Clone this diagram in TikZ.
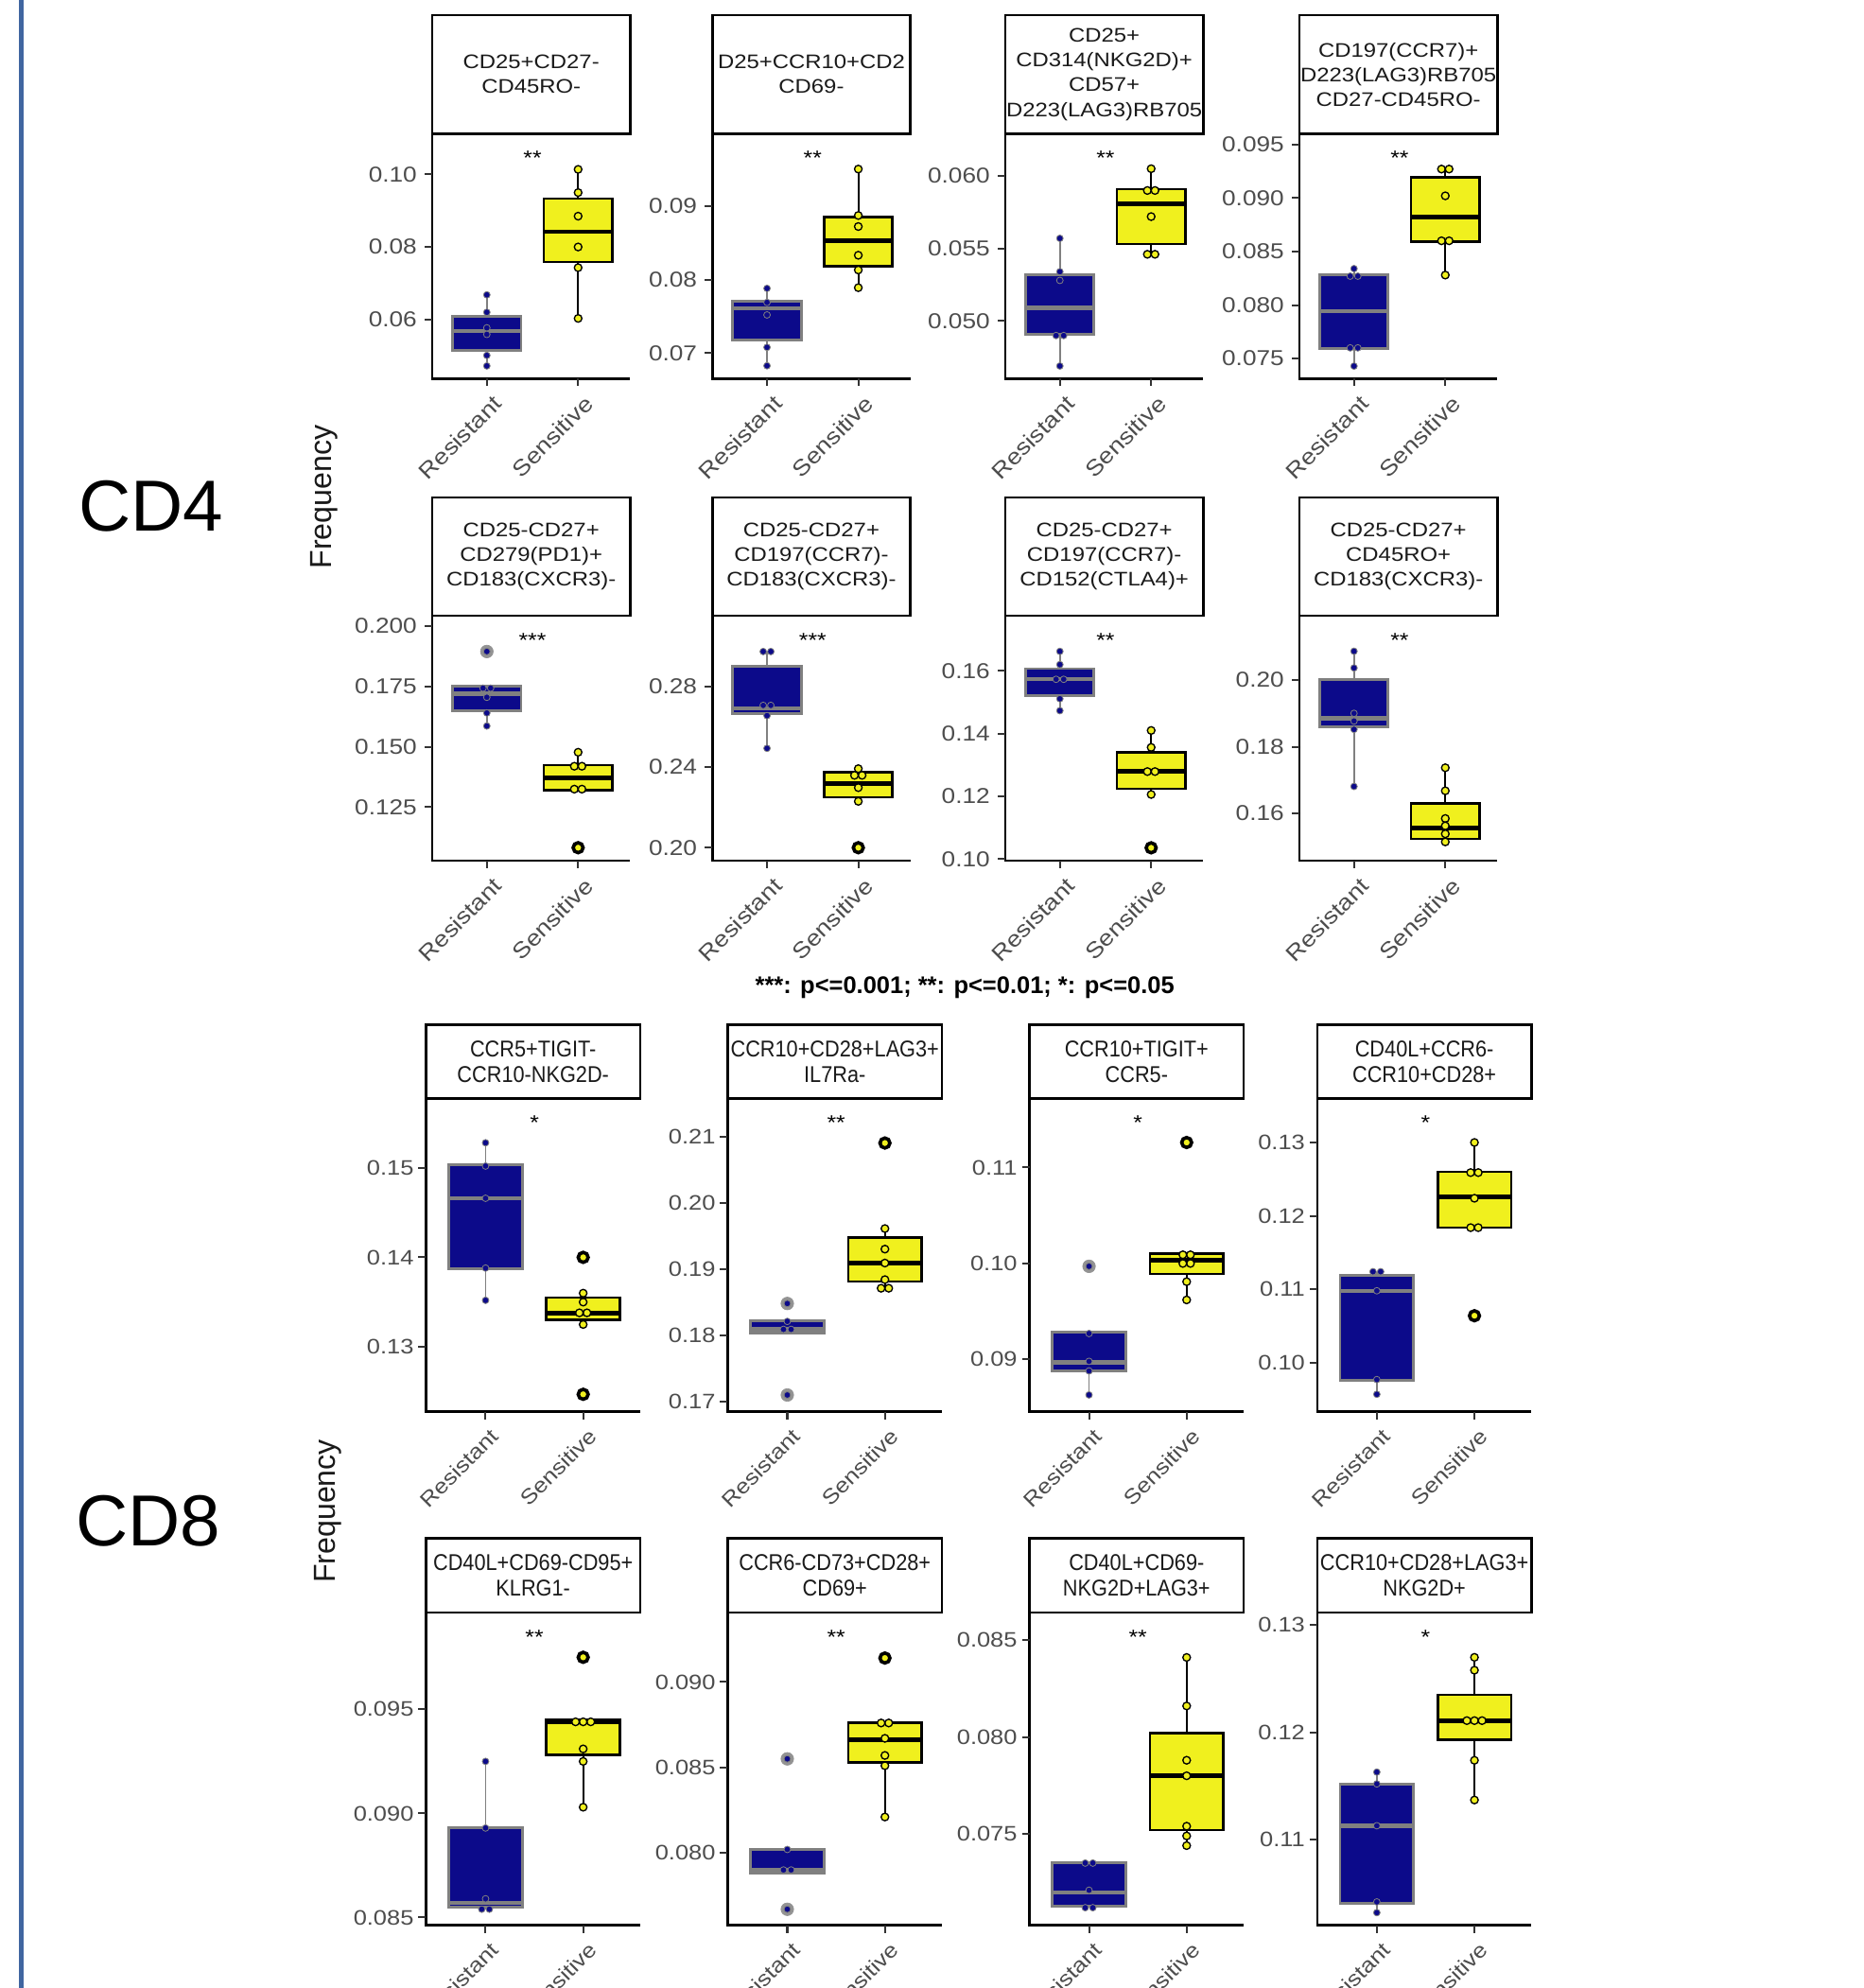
\documentclass[tikz,border=0pt]{standalone}
\usepackage{fontspec}
\setmainfont{Liberation Sans}
\newfontfamily\widesf[FakeStretch=1.15]{Liberation Sans}
\newfontfamily\narrowsf[FakeStretch=0.9]{Liberation Sans}
\usetikzlibrary{positioning}

\definecolor{navybox}{RGB}{12,10,138}
\definecolor{ylwbox}{RGB}{240,240,30}
\definecolor{boxgray}{RGB}{128,128,128}
\definecolor{tickgray}{RGB}{77,77,77}
\definecolor{stripink}{RGB}{26,26,26}
\definecolor{sidebar}{RGB}{64,102,160}

% one facet: strip, axes, group labels, stars
% #1 name, #2 left, #3 strip top, #4 strip bottom, #5 x axis, #6 title, #7 stars
\newcommand{\facet}[7]{%
  \draw[stripbox] (#2,#3) rectangle (#2+\panw,#4);
  \begin{scope}
    \clip (#2,#3) rectangle (#2+\panw,#4);
    \node[striptext] (#1-title) at ({#2+\panw/2},{(#3+#4)/2}) {#6};
  \end{scope}
  \draw[axisline] (#2,#4) -- (#2,#5) -- (#2+\panw,#5);
  \draw[tickline] (#2+\resx,#5) -- (#2+\resx,#5+6) (#2+\senx,#5) -- (#2+\senx,#5+6);
  \node[catlabel] (#1-res) at (#2+\resx+\catdx,#5+12) {Resistant};
  \node[catlabel] (#1-sen) at (#2+\senx+\catdx,#5+12) {Sensitive};
  \node[stars] (#1-sig) at ({#2+(\resx+\senx)/2},#4+25) {#7};
}
% data scope: values in percent; #1 left, #2 pixel row of 0, #3 pt per percent
\newenvironment{facetdata}[3]{\begin{scope}[shift={(#1,#2)}, y={(0pt,#3pt)}]}{\end{scope}}
\newcommand{\yticks}[2]{%
  \foreach \tv/\lab [count=\i] in {#2} {
    \draw[tickline] (-6,\tv) -- (0,\tv);
    \node[ticklabel] (#1-y\i) at (-\labgap,\tv) {\lab};
  }}
% #1 res/sen, #2 x, #3 low, #4 q1, #5 median, #6 q3, #7 high
\newcommand{\bxplot}[7]{%
  \draw[#1whisk] (#2,#3) -- (#2,#7);
  \filldraw[#1box] (#2-\bxw,#4) rectangle (#2+\bxw,#6);
  \draw[#1med] (#2-\bxw,#5) -- (#2+\bxw,#5);
}
\newcommand{\bxpts}[3]{\foreach \dx/\pv in {#3} \filldraw[#1pt] (#2+\dx,\pv) circle[];}
\newcommand{\bxout}[3]{\foreach \pv in {#3} {\filldraw[#1out] (#2,\pv) circle[]; \filldraw[#1pt] (#2,\pv) circle[];}}

\begin{document}
\begin{tikzpicture}[x=1pt, y=-1pt,
    stripbox/.style={draw=black, line width=2pt, fill=white},
    axisline/.style={draw=black, line width=2pt},
    tickline/.style={draw=black!80, line width=1.5pt},
    resbox/.style={fill=navybox, draw=boxgray, line width=2.2pt},
    senbox/.style={fill=ylwbox, draw=black, line width=2pt},
    resmed/.style={draw=boxgray, line width=3.2pt},
    senmed/.style={draw=black, line width=3.6pt},
    reswhisk/.style={draw=boxgray, line width=1.4pt},
    senwhisk/.style={draw=black, line width=1.6pt},
    respt/.style={fill=navybox, draw=boxgray, line width=0.6pt, radius=2.6pt},
    senpt/.style={fill=ylwbox, draw=black, line width=1pt, radius=3pt},
    resout/.style={fill=boxgray!85, draw=boxgray!85, line width=0.5pt, radius=5pt},
    senout/.style={fill=ylwbox, draw=black, line width=2.2pt, radius=4.2pt},
    sectiontitle/.style={font=\fontsize{57}{60}\selectfont, inner sep=0pt},
    ylab/.style={font=\fontsize{24}{24}\selectfont, rotate=90, inner sep=0pt, text=stripink},
    sigkey/.style={font=\bfseries\fontsize{19}{19}\selectfont, inner sep=0pt},
    cdfour/.style={
      striptext/.style={font=\widesf\fontsize{15.5}{19.5}\selectfont, text=stripink, align=center, inner sep=0pt},
      ticklabel/.style={font=\widesf\fontsize{17}{17}\selectfont, text=tickgray, anchor=east, inner sep=0pt},
      catlabel/.style={font=\widesf\fontsize{17.5}{17.5}\selectfont, text=tickgray, rotate=45, anchor=north east, inner sep=0pt},
      stars/.style={font=\widesf\fontsize{16}{16}\selectfont, anchor=base, inner sep=0pt}},
    cdeight/.style={
      striptext/.style={font=\narrowsf\fontsize{18}{20}\selectfont, text=stripink, align=center, inner sep=0pt},
      ticklabel/.style={font=\widesf\fontsize{16.5}{16.5}\selectfont, text=tickgray, anchor=east, inner sep=0pt},
      catlabel/.style={font=\widesf\fontsize{16.5}{16.5}\selectfont, text=tickgray, rotate=45, anchor=north east, inner sep=0pt},
      stars/.style={font=\widesf\fontsize{16}{16}\selectfont, anchor=base, inner sep=0pt}}
]
\useasboundingbox (0,0) rectangle (1470,1568);
\clip (0,0) rectangle (1470,1568);
\fill[white] (0,0) rectangle (1470,1568);
\draw[sidebar, line width=3.5pt] (17,0) -- (17,1568);

\node[sectiontitle] (cd4) at (119,399) {CD4};
\node[sectiontitle] (cd8) at (117,1200) {CD8};
\node[ylab] (freq4) at (256,392) {Frequency};
\node[ylab] (freq8) at (259,1192) {Frequency};
\node[sigkey] (sigkey) at (761,779) {***: p<=0.001; **: p<=0.01; *: p<=0.05};

% CD4 facets
\begin{scope}[cdfour]
\def\panw{156}\def\resx{43}\def\senx{115}\def\bxw{27}\def\labgap{12}\def\catdx{4}
\facet{f1}{341}{12}{105.5}{298.5}{CD25+CD27-\\CD45RO-}{**}
\begin{facetdata}{341}{423.6}{28.6}
  \yticks{f1}{10/0.10, 8/0.08, 6/0.06}
  \bxplot{res}{\resx}{4.72}{5.16}{5.68}{6.09}{6.68}
  \bxpts{res}{\resx}{0/6.68, 0/6.20, 0/5.77, 0/5.59, 0/5.01, 0/4.72}
  \bxplot{sen}{\senx}{6.03}{7.59}{8.42}{9.33}{10.14}
  \bxpts{sen}{\senx}{0/10.14, 0/9.50, 0/8.85, 0/8.00, 0/7.43, 0/6.03}
\end{facetdata}

\facet{f2}{562}{12}{105.5}{298.5}{D25+CCR10+CD2\\CD69-}{**}
\begin{facetdata}{562}{685.3}{58.1}
  \yticks{f2}{9/0.09, 8/0.08, 7/0.07}
  \bxplot{res}{\resx}{6.83}{7.18}{7.61}{7.70}{7.88}
  \bxpts{res}{\resx}{0/7.88, 0/7.69, 0/7.52, 0/7.08, 0/6.83}
  \bxplot{sen}{\senx}{7.89}{8.18}{8.53}{8.85}{9.50}
  \bxpts{sen}{\senx}{0/9.50, 0/8.87, 0/8.72, 0/8.33, 0/8.13, 0/7.89}
\end{facetdata}

\facet{f3}{793}{12}{105.5}{298.5}{CD25+\\CD314(NKG2D)+\\CD57+\\D223(LAG3)RB705}{**}
\begin{facetdata}{793}{825.2}{114.4}
  \yticks{f3}{6/0.060, 5.5/0.055, 5/0.050}
  \bxplot{res}{\resx}{4.69}{4.91}{5.09}{5.32}{5.57}
  \bxpts{res}{\resx}{0/5.57, 0/5.34, 0/5.28, -3/4.90, 3/4.90, 0/4.69}
  \bxplot{sen}{\senx}{5.46}{5.53}{5.81}{5.91}{6.05}
  \bxpts{sen}{\senx}{0/6.05, -3/5.90, 3/5.90, 0/5.72, -3/5.46, 3/5.46}
\end{facetdata}

\facet{f4}{1025}{12}{105.5}{298.5}{CD197(CCR7)+\\D223(LAG3)RB705\\CD27-CD45RO-}{**}
\begin{facetdata}{1025}{916.2}{84.45}
  \yticks{f4}{9.5/0.095, 9/0.090, 8.5/0.085, 8/0.080, 7.5/0.075}
  \bxplot{res}{\resx}{7.43}{7.59}{7.94}{8.28}{8.34}
  \bxpts{res}{\resx}{0/8.34, -3/8.27, 3/8.27, -3/7.60, 3/7.60, 0/7.43}
  \bxplot{sen}{\senx}{8.28}{8.59}{8.82}{9.19}{9.27}
  \bxpts{sen}{\senx}{-3/9.27, 3/9.27, 0/9.02, -3/8.60, 3/8.60, 0/8.28}
\end{facetdata}

\facet{f5}{341}{392.4}{485.6}{678.9}{CD25-CD27+\\CD279(PD1)+\\CD183(CXCR3)-}{***}
\begin{facetdata}{341}{874.1}{19.01}
  \yticks{f5}{20/0.200, 17.5/0.175, 15/0.150, 12.5/0.125}
  \bxplot{res}{\resx}{15.86}{16.51}{17.2}{17.5}{17.5}
  \bxpts{res}{\resx}{-3/17.43, 3/17.43, 0/17.05, 0/16.40, 0/15.86}
  \bxout{res}{\resx}{18.95}
  \bxplot{sen}{\senx}{13.20}{13.20}{13.72}{14.23}{14.77}
  \bxpts{sen}{\senx}{0/14.77, -3/14.19, 3/14.19, -3/13.24, 3/13.24}
  \bxout{sen}{\senx}{10.81}
\end{facetdata}

\facet{f6}{562}{392.4}{485.6}{678.9}{CD25-CD27+\\CD197(CCR7)-\\CD183(CXCR3)-}{***}
\begin{facetdata}{562}{986.6}{15.9}
  \yticks{f6}{28/0.28, 24/0.24, 20/0.20}
  \bxplot{res}{\resx}{24.93}{26.66}{26.92}{29.00}{29.73}
  \bxpts{res}{\resx}{-3/29.73, 3/29.73, -3/27.06, 3/27.06, 0/26.55, 0/24.93}
  \bxplot{sen}{\senx}{22.30}{22.50}{23.19}{23.73}{23.92}
  \bxpts{sen}{\senx}{0/23.92, -3/23.59, 3/23.59, 0/22.98, 0/22.30}
  \bxout{sen}{\senx}{20.00}
\end{facetdata}

\facet{f7}{793}{392.4}{485.6}{678.9}{CD25-CD27+\\CD197(CCR7)-\\CD152(CTLA4)+}{**}
\begin{facetdata}{793}{925.1}{24.75}
  \yticks{f7}{16/0.16, 14/0.14, 12/0.12, 10/0.10}
  \bxplot{res}{\resx}{14.73}{15.21}{15.74}{16.07}{16.62}
  \bxpts{res}{\resx}{0/16.62, 0/16.20, -3/15.73, 3/15.73, 0/15.11, 0/14.73}
  \bxplot{sen}{\senx}{12.06}{12.24}{12.81}{13.41}{14.10}
  \bxpts{sen}{\senx}{0/14.10, 0/13.56, -3/12.79, 3/12.79, 0/12.06}
  \bxout{sen}{\senx}{10.36}
\end{facetdata}

\facet{f8}{1025}{392.4}{485.6}{678.9}{CD25-CD27+\\CD45RO+\\CD183(CXCR3)-}{**}
\begin{facetdata}{1025}{1062.9}{26.33}
  \yticks{f8}{20/0.20, 18/0.18, 16/0.16}
  \bxplot{res}{\resx}{16.81}{18.59}{18.85}{20.02}{20.86}
  \bxpts{res}{\resx}{0/20.86, 0/20.36, 0/19.00, 0/18.77, 0/18.52, 0/16.81}
  \bxplot{sen}{\senx}{15.15}{15.24}{15.56}{16.31}{17.37}
  \bxpts{sen}{\senx}{0/17.37, 0/16.68, 0/15.85, 0/15.63, 0/15.39, 0/15.15}
\end{facetdata}
\end{scope}

% CD8 facets
\begin{scope}[cdeight]
\def\panw{169}\def\resx{47}\def\senx{124}\def\bxw{29}\def\labgap{9.5}\def\catdx{3}
\facet{f9}{336}{808.3}{866.4}{1113.5}{CCR5+TIGIT-\\CCR10-NKG2D-}{*}
\begin{facetdata}{336}{1980.1}{70.6}
  \yticks{f9}{15/0.15, 14/0.14, 13/0.13}
  \bxplot{res}{\resx}{13.52}{13.87}{14.66}{15.03}{15.28}
  \bxpts{res}{\resx}{0/15.28, 0/15.02, 0/14.66, 0/13.88, 0/13.52}
  \bxplot{sen}{\senx}{13.25}{13.30}{13.38}{13.55}{13.60}
  \bxpts{sen}{\senx}{0/13.60, 0/13.50, -3/13.38, 3/13.38, 0/13.25}
  \bxout{sen}{\senx}{14.00, 12.47}
\end{facetdata}

\facet{f10}{574}{808.3}{866.4}{1113.5}{CCR10+CD28+LAG3+\\IL7Ra-}{**}
\begin{facetdata}{574}{1994.6}{52.3}
  \yticks{f10}{21/0.21, 20/0.20, 19/0.19, 18/0.18, 17/0.17}
  \bxplot{res}{\resx}{18.04}{18.04}{18.09}{18.22}{18.22}
  \bxpts{res}{\resx}{0/18.21, -3/18.09, 3/18.09}
  \bxout{res}{\resx}{18.48, 17.10}
  \bxplot{sen}{\senx}{18.71}{18.81}{19.09}{19.47}{19.61}
  \bxpts{sen}{\senx}{0/19.61, 0/19.30, 0/19.09, 0/18.84, -3/18.71, 3/18.71}
  \bxout{sen}{\senx}{20.90}
\end{facetdata}

\facet{f11}{812}{808.3}{866.4}{1113.5}{CCR10+TIGIT+\\CCR5-}{*}
\begin{facetdata}{812}{1753.5}{75.7}
  \yticks{f11}{11/0.11, 10/0.10, 9/0.09}
  \bxplot{res}{\resx}{8.63}{8.88}{8.97}{9.28}{9.28}
  \bxpts{res}{\resx}{0/9.27, 0/8.98, 0/8.88, 0/8.63}
  \bxout{res}{\resx}{9.97}
  \bxplot{sen}{\senx}{9.62}{9.89}{10.03}{10.10}{10.10}
  \bxpts{sen}{\senx}{-3/10.09, 3/10.09, -3/10.00, 3/10.00, 0/9.81, 0/9.62}
  \bxout{sen}{\senx}{11.26}
\end{facetdata}

\facet{f12}{1039}{808.3}{866.4}{1113.5}{CD40L+CCR6-\\CCR10+CD28+}{*}
\begin{facetdata}{1039}{1653.8}{57.9}
  \yticks{f12}{13/0.13, 12/0.12, 11/0.11, 10/0.10}
  \bxplot{res}{\resx}{9.57}{9.76}{10.98}{11.19}{11.24}
  \bxpts{res}{\resx}{-3/11.24, 3/11.24, 0/10.98, 0/9.77, 0/9.57}
  \bxplot{sen}{\senx}{11.84}{11.84}{12.26}{12.60}{13.00}
  \bxpts{sen}{\senx}{0/13.00, -3/12.59, 3/12.59, 0/12.24, -3/11.84, 3/11.84}
  \bxout{sen}{\senx}{10.64}
\end{facetdata}

\facet{f13}{336}{1213.4}{1271.9}{1518.6}{CD40L+CD69-CD95+\\KLRG1-}{**}
\begin{facetdata}{336}{2908.1}{164.2}
  \yticks{f13}{9.5/0.095, 9/0.090, 8.5/0.085}
  \bxplot{res}{\resx}{8.54}{8.55}{8.57}{8.93}{9.25}
  \bxpts{res}{\resx}{0/9.25, 0/8.93, 0/8.59, -3/8.54, 3/8.54}
  \bxplot{sen}{\senx}{9.03}{9.28}{9.44}{9.45}{9.45}
  \bxpts{sen}{\senx}{-6/9.44, 0/9.44, 6/9.44, 0/9.31, 0/9.25, 0/9.03}
  \bxout{sen}{\senx}{9.75}
\end{facetdata}

\facet{f14}{574}{1213.4}{1271.9}{1518.6}{CCR6-CD73+CD28+\\CD69+}{**}
\begin{facetdata}{574}{2539.8}{134.8}
  \yticks{f14}{9/0.090, 8.5/0.085, 8/0.080}
  \bxplot{res}{\resx}{7.88}{7.88}{7.90}{8.02}{8.02}
  \bxpts{res}{\resx}{0/8.02, -3/7.90, 3/7.90}
  \bxout{res}{\resx}{8.55, 7.67}
  \bxplot{sen}{\senx}{8.21}{8.53}{8.66}{8.76}{8.76}
  \bxpts{sen}{\senx}{-3/8.76, 3/8.76, 0/8.67, 0/8.57, 0/8.51, 0/8.21}
  \bxout{sen}{\senx}{9.14}
\end{facetdata}

\facet{f15}{812}{1213.4}{1271.9}{1518.6}{CD40L+CD69-\\NKG2D+LAG3+}{**}
\begin{facetdata}{812}{2594.0}{153.0}
  \yticks{f15}{8.5/0.085, 8/0.080, 7.5/0.075}
  \bxplot{res}{\resx}{7.13}{7.13}{7.20}{7.35}{7.35}
  \bxpts{res}{\resx}{-3/7.35, 3/7.35, 0/7.21, -3/7.12, 3/7.12}
  \bxplot{sen}{\senx}{7.44}{7.52}{7.80}{8.02}{8.41}
  \bxpts{sen}{\senx}{0/8.41, 0/8.16, 0/7.88, 0/7.80, 0/7.54, 0/7.49, 0/7.44}
\end{facetdata}

\facet{f16}{1039}{1213.4}{1271.9}{1518.6}{CCR10+CD28+LAG3+\\NKG2D+}{*}
\begin{facetdata}{1039}{2381.6}{84.6}
  \yticks{f16}{13/0.13, 12/0.12, 11/0.11}
  \bxplot{res}{\resx}{10.32}{10.41}{11.13}{11.52}{11.63}
  \bxpts{res}{\resx}{0/11.63, 0/11.52, 0/11.13, 0/10.42, 0/10.32}
  \bxplot{sen}{\senx}{11.37}{11.93}{12.11}{12.35}{12.70}
  \bxpts{sen}{\senx}{0/12.70, 0/12.58, -6/12.11, 0/12.11, 6/12.11, 0/11.74, 0/11.37}
\end{facetdata}
\end{scope}
\end{tikzpicture}
\end{document}
